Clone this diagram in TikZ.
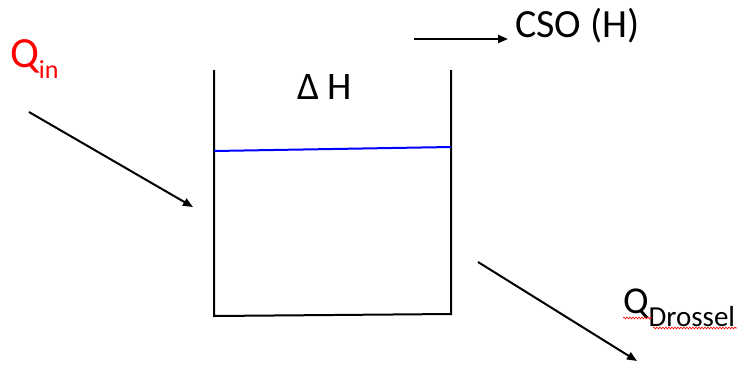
\documentclass[tikz,border=0pt]{standalone}
\usepackage{fontspec}
\setmainfont{Carlito}
\usetikzlibrary{arrows.meta,decorations.pathmorphing}

\begin{document}
\begin{tikzpicture}[x=1pt,y=-1pt,line width=2pt,
  flow/.style={-{Triangle[length=10pt,width=8pt]}},
  spell/.style={red,line width=0.6pt,decorate,decoration={snake,amplitude=0.9pt,segment length=3pt}}]
\useasboundingbox (0,0) rectangle (738,365);
% tank walls and bottom
\coordinate (tl) at (214,70);
\coordinate (bl) at (214,316);
\coordinate (br) at (451,314);
\coordinate (tr) at (451,70);
\draw (tl) -- (bl) -- (br) -- (tr);
% water level
\coordinate (wl) at (214,151);
\coordinate (wr) at (451,147);
\draw[blue] (wl) -- (wr);
\node[anchor=base west,inner sep=0pt] (dh) at (296,99) {\fontsize{39}{39}\selectfont Δ H};
% inflow
\node[anchor=base west,inner sep=0pt,red] (qin) at (9,67) {\fontsize{43}{43}\selectfont Q\raisebox{-11pt}{\fontsize{26}{26}\selectfont in}};
\coordinate (ina) at (29,112);
\coordinate (inb) at (193,207);
\draw[flow] (ina) -- (inb);
% overflow
\coordinate (csoa) at (414,39);
\coordinate (csob) at (508,39);
\draw[flow] (csoa) -- (csob);
\node[anchor=base west,inner sep=0pt] (cso) at (514,37) {\fontsize{40}{40}\selectfont CSO (H)};
% throttle outflow
\coordinate (outa) at (478,262);
\coordinate (outb) at (637,361);
\draw[flow] (outa) -- (outb);
\node[anchor=base west,inner sep=0pt] (qdr) at (622,313) {\fontsize{38}{38}\selectfont Q\raisebox{-13pt}{\fontsize{29}{29}\selectfont Drossel}};
\draw[spell] (623,318) -- (652,318);
\draw[spell] (653,328) -- (737,328);
\end{tikzpicture}
\end{document}
